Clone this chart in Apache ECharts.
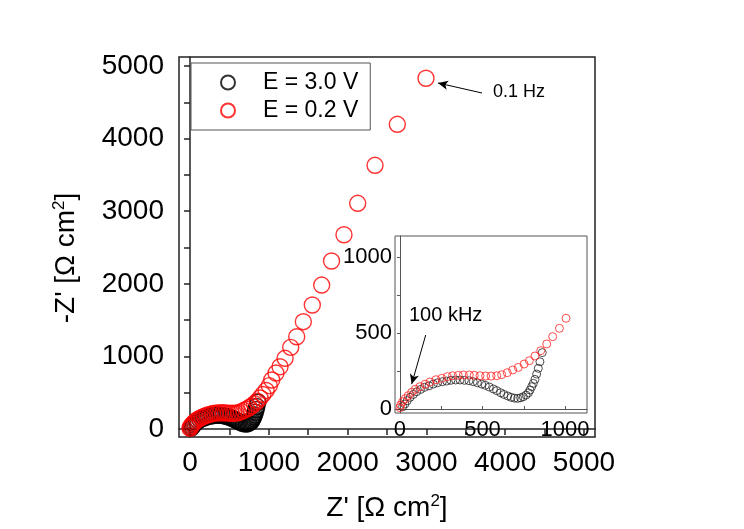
<!DOCTYPE html>
<html>
<head>
<meta charset="utf-8">
<script src="https://cdn.jsdelivr.net/npm/echarts@6/dist/echarts.min.js"></script>
<style>html,body{margin:0;padding:0;background:#fff}#c{width:744px;height:529px}</style>
</head>
<body>
<div id="c"></div>
<script>
// ---- data (Z' , -Z'' in Ω cm²) ----
var seriesNames = ['E = 3.0 V', 'E = 0.2 V'];
var zBlack = [[16,15],[30,33],[44,55],[61,77],[81,96],[101,114],[125,129],[149,143],[176,153],[202,164],[228,173],[257,180],[283,184],[309,189],[337,191],[364,191],[390,189],[418,186],[444,180],[469,173],[495,164],[517,156],[541,145],[566,132],[586,121],[610,107],[630,96],[653,86],[673,77],[693,72],[713,70],[731,74],[747,81],[764,92],[778,107],[788,125],[798,147],[808,169],[818,195],[828,230],[838,268],[848,311],[862,371]];
var zRedHF = [[0,9],[4,26],[16,48],[32,68],[50,88],[71,110],[93,130],[121,147],[152,163],[182,178],[218,193],[253,202],[287,213],[319,219],[353,222],[384,224],[420,224],[450,222],[485,219],[519,217],[552,217],[586,219],[616,226],[650,239],[683,257],[717,274],[752,296],[784,318],[818,349],[853,384],[889,428],[925,476],[966,531],[1006,597]];
var zRedLF = [[1037,675],[1091,771],[1142,858],[1206,974],[1278,1125],[1354,1271],[1438,1478],[1552,1708],[1671,1983],[1796,2314],[1954,2676],[2128,3109],[2348,3632],[2631,4197],[2995,4831]];
var mainTicks = [0,1000,2000,3000,4000,5000];
var mainMinor = [0,500,1000,1500,2000,2500,3000,3500,4000,4500,5000];
var insetTicks = [0,500,1000];
var insetMinor = [0,250,500,750,1000];
var arrowMain = [[3706,4628],[3147,4766]];   // 0.1 Hz arrow
var arrowInset = [[156,487],[71,164]];       // 100 kHz arrow

var FONT = '"Liberation Sans", Arial, sans-serif';
var chart = echarts.init(document.getElementById('c'));

function valAxis(grid, min, max, ticks, minor, fs, margin, inside, tlen, lineW, col) {
  return {
    type: 'value', gridIndex: grid, min: min, max: max,
    axisLine: {show: true, lineStyle: {color: col, width: lineW}},
    axisTick: {show: true, inside: inside, length: tlen, customValues: minor, lineStyle: {color: col, width: lineW}},
    axisLabel: {customValues: ticks, fontSize: fs, color: '#000', fontFamily: FONT, margin: margin,
                formatter: function (v) { return String(v); }},
    splitLine: {show: false}
  };
}

var mainRed = zRedHF.concat(zRedLF);

chart.setOption({
  animation: false,
  backgroundColor: '#fff',
  grid: [
    {left: 179, top: 57, width: 416, height: 380, show: true, borderColor: '#222', borderWidth: 1.5},
    {left: 395, top: 236, width: 192, height: 177, show: true, borderColor: '#555', borderWidth: 1, backgroundColor: '#fff', z: 5}
  ],
  xAxis: [
    valAxis(0, -140, 5140, mainTicks, mainMinor, 28, 12, false, 6, 1.5, '#222'),
    Object.assign(valAxis(1, -30, 1133, insetTicks, insetMinor, 22, 6, true, 3, 1, '#555'), {z: 6})
  ],
  yAxis: [
    valAxis(0, -110, 5124, mainTicks, mainMinor, 28, 15, false, 6, 1.5, '#222'),
    Object.assign(valAxis(1, -26, 1138, insetTicks, insetMinor, 22, 3, false, 3, 1, '#555'), {z: 6})
  ],
  legend: {
    data: seriesNames, orient: 'vertical', left: 191, top: 63,
    padding: [8, 12, 8, 29], itemGap: 5, itemWidth: 14, itemHeight: 14,
    borderColor: '#555', borderWidth: 1,
    textStyle: {fontSize: 23, color: '#000', fontFamily: FONT, padding: [0, 0, 0, 23]}
  },
  series: [
    {name: seriesNames[0], type: 'scatter', xAxisIndex: 0, yAxisIndex: 0, data: zBlack,
     symbol: 'circle', symbolSize: 16, itemStyle: {color: 'rgba(0,0,0,0)', borderColor: '#000', borderWidth: 1.6}},
    {name: seriesNames[1], type: 'scatter', xAxisIndex: 0, yAxisIndex: 0, data: mainRed,
     symbol: 'circle', symbolSize: 16, itemStyle: {color: 'rgba(0,0,0,0)', borderColor: '#ff0000', borderWidth: 1.4},
     markLine: {silent: true, symbol: ['none', 'arrow'], symbolSize: [7, 10], label: {show: false},
       lineStyle: {color: '#000', width: 1, type: 'solid'},
       data: [[{coord: arrowMain[0]}, {coord: arrowMain[1]}]]}},
    {name: seriesNames[0], type: 'scatter', xAxisIndex: 1, yAxisIndex: 1, data: zBlack, z: 7,
     symbol: 'circle', symbolSize: 8, itemStyle: {color: 'rgba(0,0,0,0)', borderColor: '#222', borderWidth: 1}},
    {name: seriesNames[1], type: 'scatter', xAxisIndex: 1, yAxisIndex: 1, data: zRedHF, z: 7,
     symbol: 'circle', symbolSize: 8, itemStyle: {color: 'rgba(0,0,0,0)', borderColor: '#ff2020', borderWidth: 1},
     markLine: {silent: true, symbol: ['none', 'arrow'], symbolSize: [7, 10], label: {show: false},
       lineStyle: {color: '#000', width: 1, type: 'solid'},
       data: [[{coord: arrowInset[0]}, {coord: arrowInset[1]}]]}}
  ],
  graphic: [
    {type: 'text', left: 493, top: 83, z: 10, style: {text: '0.1 Hz', fontSize: 18, fill: '#000', fontFamily: FONT}},
    {type: 'text', left: 409, top: 305, z: 10, style: {text: '100 kHz', fontSize: 20, fill: '#000', fontFamily: FONT}},
    {type: 'text', x: 387, y: 508, z: 10, style: {
      text: "{a|Z' [Ω cm}{s|2}{a|]}", align: 'center', verticalAlign: 'middle',
      rich: {a: {fontSize: 28, fontFamily: FONT, fill: '#000'}, s: {fontSize: 17, fontFamily: FONT, fill: '#000', verticalAlign: 'bottom', padding: [0, 0, 14, 0]}}}},
    {type: 'text', x: 66, y: 258, rotation: Math.PI / 2, z: 10, style: {
      text: "{a|-Z' [Ω cm}{s|2}{a|]}", align: 'center', verticalAlign: 'middle',
      rich: {a: {fontSize: 28, fontFamily: FONT, fill: '#000'}, s: {fontSize: 17, fontFamily: FONT, fill: '#000', verticalAlign: 'bottom', padding: [0, 0, 14, 0]}}}}
  ]
});
</script>
</body>
</html>
